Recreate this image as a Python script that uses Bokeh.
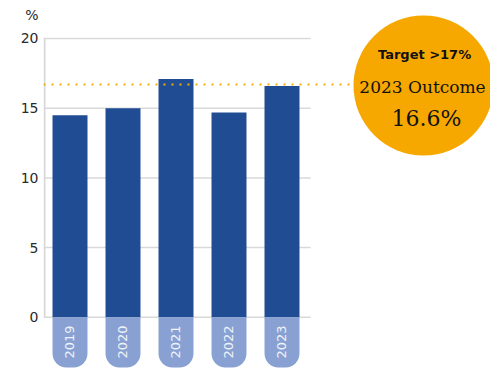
import numpy as np
from bokeh.plotting import figure
from bokeh.models import FixedTicker
from bokeh.core.properties import value
from bokeh.embed import file_html
from bokeh.resources import INLINE

years = ["2019", "2020", "2021", "2022", "2023"]
rates = [14.5, 15.0, 17.1, 14.7, 16.6]
y_ticks = [0, 5, 10, 15, 20]
unit_label = "%"
unit_pos = 21.65
target_line = 16.7
target_text = "Target >17%"
outcome_text = "2023 Outcome"
outcome_value = "16.6%"

xs = np.arange(len(years)) + 0.5

p = figure(width=490, height=369, output_backend="svg", toolbar_location=None,
           x_range=(0, 8.434), y_range=(-3.745, 22.726),
           x_axis_location=None, min_border_left=43, min_border_right=0,
           min_border_top=0, min_border_bottom=0)
p.outline_line_color = None
p.xgrid.visible = False
p.ygrid.visible = False
p.background_fill_color = "white"
p.border_fill_color = "white"

# y axis (the unit "%" is shown as an extra top label)
ax = p.yaxis[0]
ax.ticker = FixedTicker(ticks=y_ticks + [unit_pos])
ax.major_label_overrides = {unit_pos: unit_label}
ax.bounds = (0, unit_pos + 0.1)
ax.major_tick_out = 0
ax.major_tick_in = 0
ax.minor_tick_out = 0
ax.minor_tick_in = 0
ax.axis_line_color = None
ax.major_label_text_font = "DejaVu Sans"
ax.major_label_text_font_size = "14px"
ax.major_label_text_color = "#2a2a2a"
ax.major_label_standoff = 5

# axis line and grid lines (limited to chart area)
p.segment(x0=[0.02], x1=[0.02], y0=[0], y1=[20], line_color="#d9d9d9", line_width=2)
p.segment(x0=[0] * len(y_ticks), x1=[5.04] * len(y_ticks), y0=y_ticks, y1=y_ticks,
          line_color="#d9d9d9", line_width=1.5)

# bars
p.vbar(x=xs, top=rates, width=0.66, fill_color="#204c94", line_color=None)

# year pills
p.quad(left=xs - 0.33, right=xs + 0.33, top=[0] * len(years), bottom=[-3.6] * len(years),
       fill_color="#88a1d2", line_color=None, border_radius=(0, 0, 14, 14))
p.text(x=xs, y=[-1.77] * len(years), text=years, angle=np.pi / 2,
       text_align="center", text_baseline="middle", text_color="#eef2fa",
       text_font=value("DejaVu Sans"), text_font_size="13px")

# target dotted line
p.segment(x0=[0], x1=[6.0], y0=[target_line], y1=[target_line],
          line_color="#f5ab00", line_width=2, line_dash="2 6")

# circle
p.scatter(x=[7.17], y=[16.63], size=140, marker="circle",
          fill_color="#f7a800", line_color=None)
p.text(x=[7.19], y=[18.85], text=[target_text], text_align="center", text_baseline="middle",
       text_font=value("DejaVu Sans"), text_font_style="bold", text_font_size="13px",
       text_color="#111111")
p.text(x=[7.151], y=[16.52], text=[outcome_text], text_align="center", text_baseline="middle",
       text_font=value("DejaVu Serif"), text_font_size="17px", text_color="#111111")
p.text(x=[7.226], y=[14.26], text=[outcome_value], text_align="center", text_baseline="middle",
       text_font=value("DejaVu Serif"), text_font_size="22px", text_color="#111111")

open("out.html", "w").write(file_html(p, INLINE))
